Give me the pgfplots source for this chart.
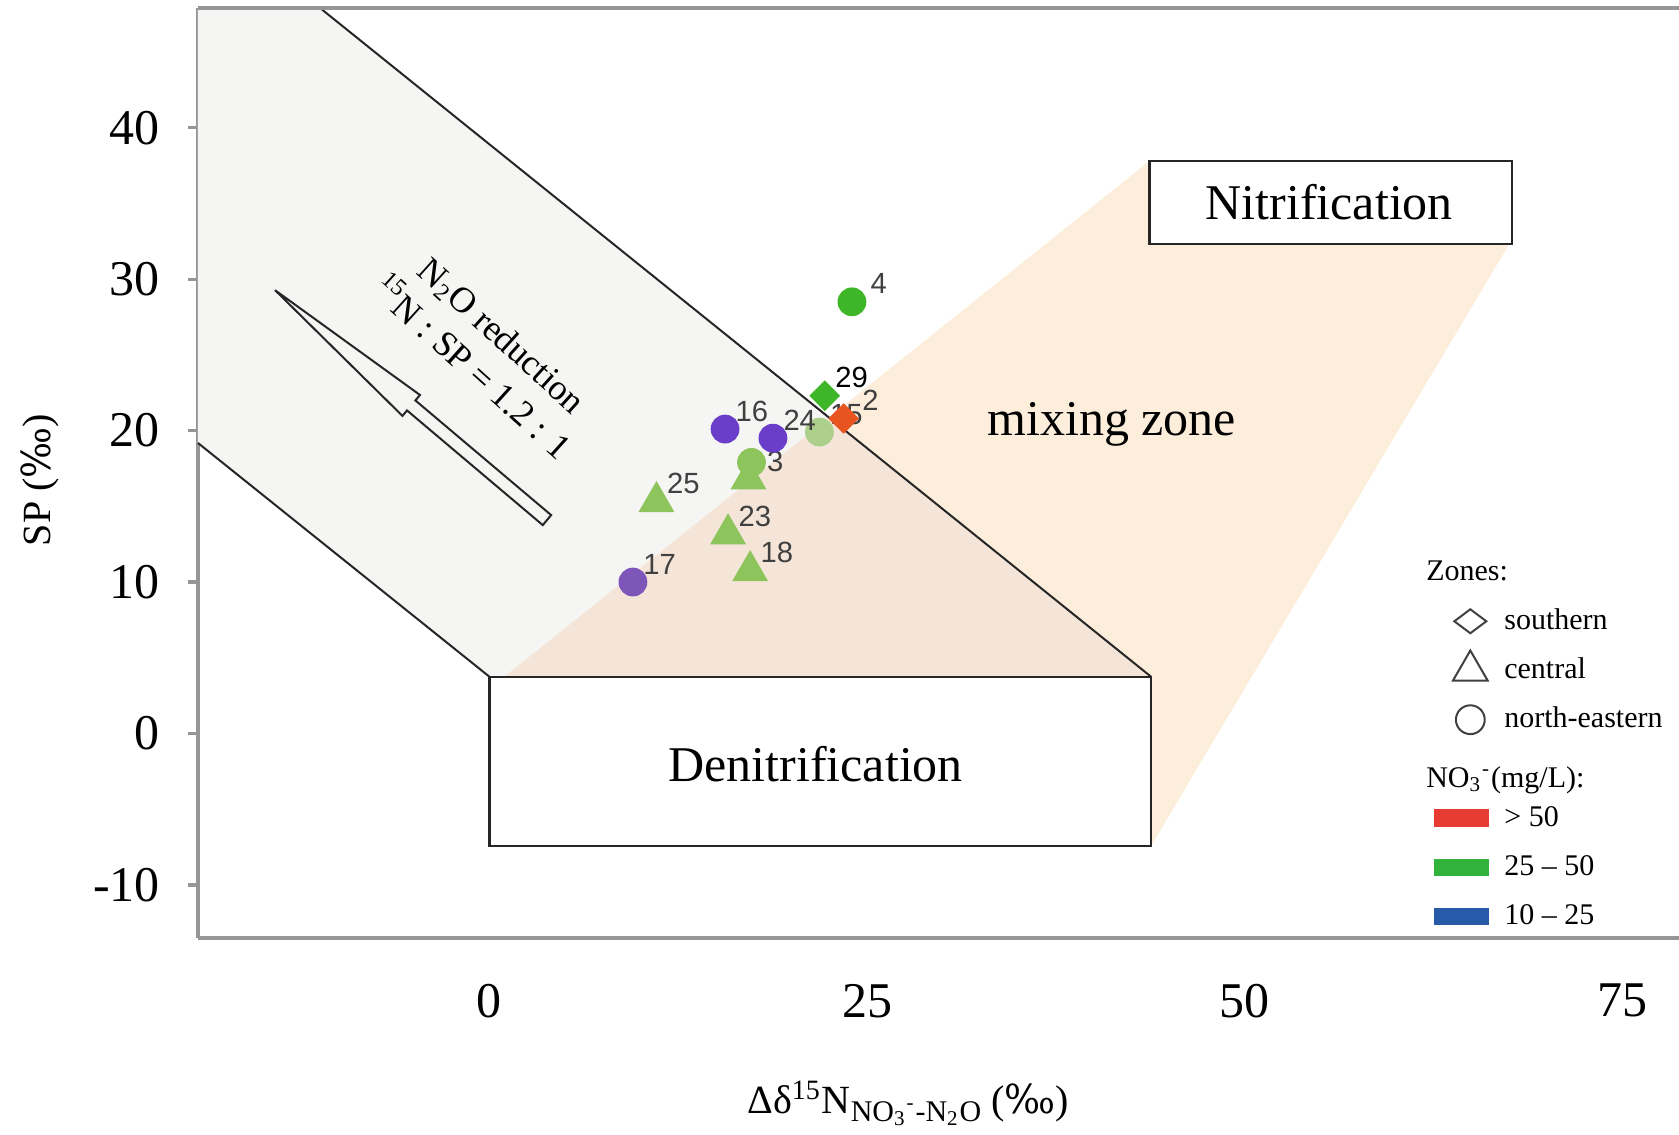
\documentclass[border=0pt]{standalone}
\usepackage{fontspec}
\setmainfont{Liberation Serif}
\newfontfamily\labsans{Liberation Sans}
\newfontfamily\djs{DejaVu Serif}
\usepackage{pgfplots}
\pgfplotsset{compat=1.18}

\definecolor{bandgrey}{RGB}{245,245,243}
\definecolor{peach}{RGB}{253,238,220}
\definecolor{overlapc}{RGB}{245,229,216}
\definecolor{gA}{RGB}{62,182,40}
\definecolor{gB}{RGB}{142,196,92}
\definecolor{gC}{RGB}{172,208,140}
\definecolor{pA}{RGB}{106,62,200}
\definecolor{pB}{RGB}{126,86,186}
\definecolor{rA}{RGB}{232,84,32}
\definecolor{axgrey}{RGB}{150,150,150}
\definecolor{legred}{RGB}{230,60,50}
\definecolor{leggreen}{RGB}{50,180,60}
\definecolor{legblue}{RGB}{40,90,170}
\newcommand{\permil}{{\djs\scalebox{0.95}[1]{‰}}}

\begin{document}
\begin{tikzpicture}
\useasboundingbox (-49.5pt,-49pt) rectangle (370.25pt,234.5pt);
\begin{axis}[
  scale only axis, width=370.25pt, height=232.5pt,
  xmin=-19.29, xmax=78.75, ymin=-13.5, ymax=47.9,
  axis x line*=bottom, axis y line*=left,
  axis line style={axgrey, line width=0.8pt},
  xtick={0,25,50,75}, xticklabels={0,25,50,75},
  ytick={-10,0,10,20,30,40}, yticklabels={-10,0,10,20,30,40},
  tick align=outside, major tick length=2.5pt,
  xtick style={draw=none}, ytick style={axgrey, line width=0.8pt},
  ticklabel style={font=\fontsize{12.5}{14}\selectfont},
  yticklabel style={xshift=-3.5pt},
  xticklabel style={yshift=-5.5pt},
  label style={font=\fontsize{14.5}{16}\selectfont},
  xlabel={Δδ\textsuperscript{15}N\raisebox{-0.4ex}{\fontsize{7.5}{9}\selectfont NO\textsubscript{3}\textsuperscript{-}-N\textsubscript{2}O} (\permil)},
  ylabel={SP (\permil)},
  every axis x label/.style={at={(axis description cs:0.4795,-0.1776)}, anchor=center},
  every axis y label/.style={at={(axis description cs:-0.1067,0.4925)}, anchor=center, rotate=90},
  clip=false,
  legend style={at={(axis description cs:0.8337,0.4158)}, anchor=north west,
    draw=none, fill=none, inner sep=0pt, row sep=2.3pt,
    font=\fontsize{7.5}{9}\selectfont,
    nodes={text height=5.5pt, text depth=1.5pt, inner sep=1.5pt}},
  legend cell align=left,
  nodes near coords, point meta=explicit symbolic,
  every node near coord/.append style={anchor=center, xshift=6.7pt, yshift=4.5pt,
    font=\labsans\fontsize{7.3}{8}\selectfont, text=black!75},
]
% regions
\fill[bandgrey] (axis cs:-19.29,47.9) -- (axis cs:-11.21,47.9) -- (axis cs:43.8,3.75) -- (axis cs:0,3.75) -- (axis cs:-19.29,19.18) -- cycle;
\fill[peach] (axis cs:1,3.75) -- (axis cs:43.7,37.8) -- (axis cs:67.5,37.8) -- (axis cs:67.5,32.3) -- (axis cs:43.8,-7.42) -- (axis cs:43.8,3.75) -- cycle;
\fill[overlapc] (axis cs:1,3.75) -- (axis cs:22.48,20.86) -- (axis cs:43.8,3.75) -- cycle;
\draw[black!85, line width=0.5pt] (axis cs:-11.21,47.9) -- (axis cs:43.8,3.75);
\draw[black!85, line width=0.5pt] (axis cs:-19.29,19.18) -- (axis cs:0,3.75);
\draw[black!85, fill=white, line width=0.6pt] (axis cs:0,-7.42) rectangle (axis cs:43.8,3.75);
\draw[black!85, fill=white, line width=0.6pt] (axis cs:43.7,32.3) rectangle (axis cs:67.7,37.8);
\node[font=\fontsize{12.5}{14}\selectfont] at (axis cs:21.6,-2.05) {Denitrification};
\node[font=\fontsize{12.5}{14}\selectfont] at (axis cs:55.6,35.05) {Nitrification};
\node[font=\fontsize{12.5}{14}\selectfont] at (axis cs:41.2,20.4) {mixing zone};
% top frame line
\draw[axgrey, line width=0.8pt] (rel axis cs:0,1) -- (rel axis cs:1,1);
% arrow
\draw[black!85, line width=0.5pt] (axis cs:-14.19,29.27) -- (axis cs:-4.595,22.35) -- (axis cs:-4.898,21.99) -- (axis cs:4.087,14.42) -- (axis cs:3.533,13.76) -- (axis cs:-5.452,21.33) -- (axis cs:-5.755,20.97) -- cycle;
\node[rotate=-42, align=center, font=\fontsize{9}{11}\selectfont] at (axis cs:-0.14,25.2)
  {N\textsubscript{2}O reduction\\\textsuperscript{15}N : SP = 1.2 : 1};

% data
\addplot[forget plot, only marks, mark=*, mark size=3.4pt, color=pB]
  table[meta=label] {
x y label
9.5 10.0 17
};
\addplot[forget plot, only marks, mark=triangle*, mark size=4.8pt, color=gB]
  table[meta=label] {
x y label
11.06 15.3 25
15.8 13.17 23
17.26 10.74 18
17.15 16.8 3
};
\addplot[forget plot, only marks, mark=*, mark size=3.4pt, color=gB]
  table[meta=label] {
x y label
17.35 17.9 {}
};
\addplot[forget plot, only marks, mark=*, mark size=3.4pt, color=gC]
  table[meta=label] {
x y label
21.85 19.9 15
};
\addplot[forget plot, only marks, mark=*, mark size=3.4pt, color=pA]
  table[meta=label] {
x y label
15.6 20.1 16
18.77 19.5 24
};
\addplot[forget plot, only marks, mark=square*, mark size=2.5pt, mark options={rotate=45}, color=rA]
  table[meta=label] {
x y label
23.45 20.8 2
};
\addplot[forget plot, only marks, mark=square*, mark size=2.5pt, mark options={rotate=45}, color=gA,
  every node near coord/.append style={text=black}]
  table[meta=label] {
x y label
22.2 22.3 29
};
\addplot[forget plot, only marks, mark=*, mark size=3.4pt, color=gA]
  table[meta=label] {
x y label
24.0 28.5 4
};

% legend
\addlegendimage{legend image code/.code={}}
\addlegendentry{\hspace*{-19.5pt}Zones:}
\addlegendimage{legend image code/.code={\draw[black!75, line width=0.5pt] plot[only marks, mark=diamond, mark size=4pt, mark options={rotate=90}] coordinates {(9pt,0pt)}; \path[draw=none] (0pt,0pt) -- (16pt,0pt);}}
\addlegendentry{southern}
\addlegendimage{legend image code/.code={\draw[black!75, line width=0.5pt] plot[only marks, mark=triangle, mark size=5pt] coordinates {(9pt,0pt)}; \path[draw=none] (0pt,0pt) -- (16pt,0pt);}}
\addlegendentry{central}
\addlegendimage{legend image code/.code={\draw[black!75, line width=0.5pt] plot[only marks, mark=o, mark size=3.6pt] coordinates {(9pt,0pt)}; \path[draw=none] (0pt,0pt) -- (16pt,0pt);}}
\addlegendentry{north-eastern}
\addlegendimage{legend image code/.code={}}
\addlegendentry{\hspace*{-19.5pt}\raisebox{-2.7pt}{NO\textsubscript{3}\textsuperscript{-}(mg/L):}}
\addlegendimage{legend image code/.code={\fill[legred] (0pt,-2pt) rectangle (13.4pt,2pt); \path[draw=none] (0pt,0pt) -- (16pt,0pt);}}
\addlegendentry{> 50}
\addlegendimage{legend image code/.code={\fill[leggreen] (0pt,-2pt) rectangle (13.4pt,2pt); \path[draw=none] (0pt,0pt) -- (16pt,0pt);}}
\addlegendentry{25 – 50}
\addlegendimage{legend image code/.code={\fill[legblue] (0pt,-2pt) rectangle (13.4pt,2pt); \path[draw=none] (0pt,0pt) -- (16pt,0pt);}}
\addlegendentry{10 – 25}
\end{axis}
\end{tikzpicture}
\end{document}
